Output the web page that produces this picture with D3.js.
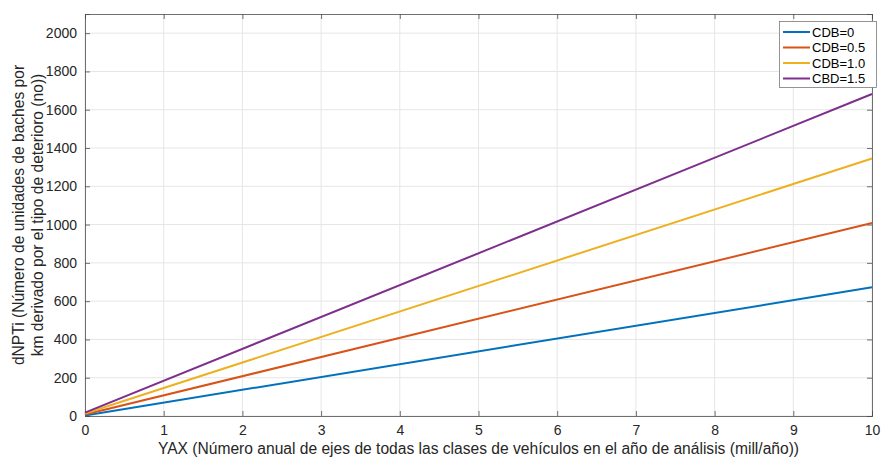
<!DOCTYPE html>
<html><head><meta charset="utf-8">
<script src="https://cdn.jsdelivr.net/npm/d3@7"></script>
<style>body{margin:0;background:#fff;}svg{display:block;font-family:"Liberation Sans",Arial,sans-serif;}</style>
</head><body><svg id="c" width="881" height="460"></svg>
<script>
const xValues = [0, 10];
const seriesNames = ["CDB=0", "CDB=0.5", "CDB=1.0", "CBD=1.5"];
const seriesCDB0 = [3, 672];
const seriesCDB05 = [8, 1008];
const seriesCDB10 = [13, 1345];
const seriesCDB15 = [18, 1682];
const seriesColors = ["#0072BD", "#D95319", "#EDB120", "#7E2F8E"];
const xTicks = [0,1,2,3,4,5,6,7,8,9,10];
const yTicks = [0,200,400,600,800,1000,1200,1400,1600,1800,2000];
const xLabel = "YAX (Número anual de ejes de todas las clases de vehículos en el año de análisis (mill/año))";
const yLabel = ["dNPTi (Número de unidades de baches por", "km derivado por el tipo de deterioro (no))"];

const allSeries = [seriesCDB0, seriesCDB05, seriesCDB10, seriesCDB15];
const svg = d3.select("#c");
const L = 85, R = 872, T = 14, B = 416;
const x = d3.scaleLinear().domain([0, 10]).range([L, R]);
const y = d3.scaleLinear().domain([0, 2100]).range([B, T]);

// grid
const g = svg.append("g");
g.selectAll(".gx").data(xTicks).enter().append("line")
  .attr("x1", d => x(d)).attr("x2", d => x(d)).attr("y1", T).attr("y2", B)
  .attr("stroke", "#e6e6e6").attr("stroke-width", 1);
g.selectAll(".gy").data(yTicks).enter().append("line")
  .attr("y1", d => y(d)).attr("y2", d => y(d)).attr("x1", L).attr("x2", R)
  .attr("stroke", "#e6e6e6").attr("stroke-width", 1);

// axes
const axColor = "#4d4d4d";
const xAxis = svg.append("g").attr("transform", `translate(0,${B})`)
  .call(d3.axisBottom(x).tickValues(xTicks).tickSize(-5).tickPadding(9).tickFormat(d3.format("d")));
const xAxisTop = svg.append("g").attr("transform", `translate(0,${T})`)
  .call(d3.axisTop(x).tickValues(xTicks).tickSize(-5).tickFormat(""));
const yAxis = svg.append("g").attr("transform", `translate(${L},0)`)
  .call(d3.axisLeft(y).tickValues(yTicks).tickSize(-5).tickPadding(8).tickFormat(d3.format("d")));
const yAxisR = svg.append("g").attr("transform", `translate(${R},0)`)
  .call(d3.axisRight(y).tickValues(yTicks).tickSize(-5).tickFormat(""));
[xAxis, xAxisTop, yAxis, yAxisR].forEach(a => {
  a.selectAll("path").attr("stroke", axColor).attr("stroke-width", 0.8);
  a.selectAll("line").attr("stroke", axColor).attr("stroke-width", 0.8);
  a.selectAll("text").attr("fill", "#262626").style("font-size", "14px").style("font-family", '"Liberation Sans",Arial,sans-serif');
});

// lines
const line = d3.line().x((d, i) => x(xValues[i])).y(d => y(d));
allSeries.forEach((s, i) => {
  svg.append("path").datum(s).attr("d", line).attr("fill", "none")
    .attr("stroke", seriesColors[i]).attr("stroke-width", 2);
});

// legend
const lg = svg.append("g");
lg.append("rect").attr("x", 779.5).attr("y", 21.5).attr("width", 97).attr("height", 66)
  .attr("fill", "#fff").attr("stroke", "#7a7a7a").attr("stroke-width", 0.8);
seriesNames.forEach((n, i) => {
  const yy = 32 + i * 15.5;
  lg.append("line").attr("x1", 783).attr("x2", 810).attr("y1", yy).attr("y2", yy)
    .attr("stroke", seriesColors[i]).attr("stroke-width", 2);
  lg.append("text").attr("x", 812).attr("y", yy + 4.5).text(n)
    .attr("fill", "#000").style("font-size", "13px");
});

// labels
svg.append("text").attr("x", (L + R) / 2).attr("y", 454).attr("text-anchor", "middle")
  .style("font-size", "15.6px").attr("fill", "#262626").text(xLabel);
yLabel.forEach((t, i) => {
  svg.append("text").attr("transform", `translate(${24 + i * 19},${(T + B) / 2}) rotate(-90)`)
    .attr("text-anchor", "middle").style("font-size", "15.6px").attr("fill", "#262626").text(t);
});
</script></body></html>
